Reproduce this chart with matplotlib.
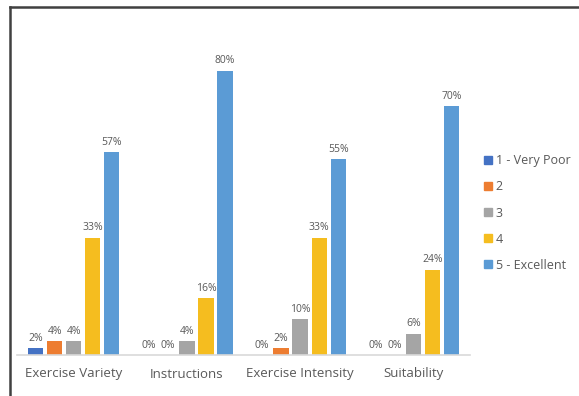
import numpy as np
import matplotlib.pyplot as plt
from matplotlib.lines import Line2D
from matplotlib.patches import Patch

plt.rcParams['font.family'] = ['Open Sans', 'DejaVu Sans']

categories = ["Exercise Variety", "Instructions", "Exercise Intensity", "Suitability"]
series = ["1 - Very Poor", "2", "3", "4", "5 - Excellent"]
very_poor = [2, 0, 0, 0]
two = [4, 0, 2, 0]
three = [4, 4, 10, 6]
four = [33, 16, 33, 24]
excellent = [57, 80, 55, 70]
values = [very_poor, two, three, four, excellent]
colors = ["#4472C4", "#ED7D31", "#A5A5A5", "#F5BD1F", "#5B9BD5"]
txt = "#595959"

fig = plt.figure(figsize=(5.79, 3.96), dpi=100)
ax = fig.add_axes([17/579, 1 - 355/396, 453/579, 320/396])

x = np.arange(len(categories))
step = 0.168
width = 0.135
for i, (name, vals, c) in enumerate(zip(series, values, colors)):
    pos = x + (i - 2) * step
    ax.bar(pos, vals, width, color=c, label=name, zorder=2)
    for p, v in zip(pos, vals):
        ax.text(p, v + 1.2, f"{v}%", ha="center", va="bottom",
                fontsize=7.5, color=txt)

ax.set_xlim(-0.5, len(categories) - 0.5)
ax.set_ylim(0, 90)
ax.set_yticks([])
ax.set_xticks(x)
ax.set_xticklabels(categories, fontsize=9.5, color=txt)
ax.tick_params(axis="x", length=0, pad=9)
for s in ["top", "right", "left"]:
    ax.spines[s].set_visible(False)
ax.spines["bottom"].set_color("#D9D9D9")
ax.spines["bottom"].set_linewidth(1.2)

handles = [Patch(color=c) for c in colors]
leg = fig.legend(handles, series, loc="upper left",
                 bbox_to_anchor=(473/579, 1 - 143/396), frameon=False,
                 fontsize=9, handlelength=0.6, handleheight=0.6,
                 handletextpad=0.3, labelspacing=1.05)
for t in leg.get_texts():
    t.set_color(txt)

# chart border (only top and left visible in the crop)
fig.add_artist(Line2D([9.5/579, 9.5/579], [0, 1 - 6.5/396],
                      color="#404040", lw=1.8, transform=fig.transFigure))
fig.add_artist(Line2D([9.5/579, 1], [1 - 6.5/396, 1 - 6.5/396],
                      color="#404040", lw=1.8, transform=fig.transFigure))

fig.savefig("out.png", dpi=100)
